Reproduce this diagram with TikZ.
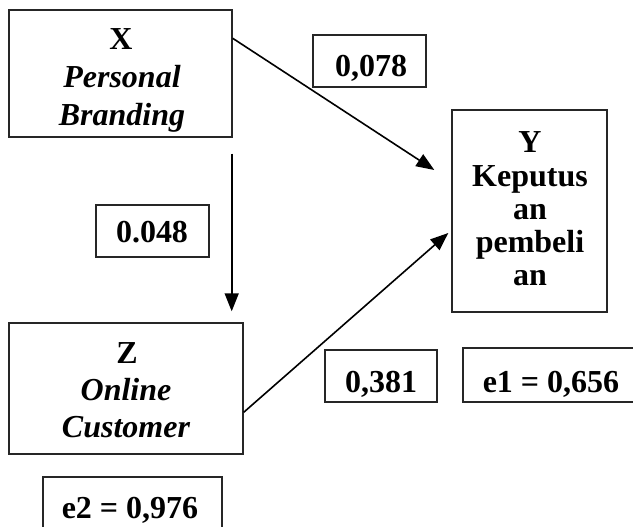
\documentclass[tikz,border=0pt]{standalone}
\usepackage{fontspec}
\setmainfont{Liberation Serif}
\usetikzlibrary{arrows.meta,calc}
\begin{document}
\begin{tikzpicture}[x=1pt,y=-1pt,
  box/.style={draw=black!85,line width=1.4pt,inner sep=0pt,fill=none},
  txt/.style={anchor=base,inner sep=0pt,font=\fontsize{32}{38}\selectfont\bfseries},
  itxt/.style={anchor=base,inner sep=0pt,font=\fontsize{32}{38}\selectfont\bfseries\itshape},
  arr/.style={line width=1.6pt,-{Triangle[length=18pt,width=14pt]}}]
\clip (0,0) rectangle (633,527);
% main boxes
\node[box,minimum width=223pt,minimum height=127pt] (X) at (120.5,73.5) {};
\node[box,minimum width=234pt,minimum height=131pt] (Z) at (126,388.5) {};
\node[box,minimum width=155pt,minimum height=202pt] (Y) at (529.5,211) {};
% coefficient boxes
\node[box,minimum width=113pt,minimum height=52pt] (b078) at (369.5,61) {};
\node[box,minimum width=113pt,minimum height=52pt] (b048) at (152.5,231) {};
\node[box,minimum width=112pt,minimum height=52pt] (b381) at (381,376) {};
\node[box,minimum width=197pt,minimum height=54pt] (be1) at (561.5,375) {};
\node[box,minimum width=179pt,minimum height=68pt] (be2) at (132.5,511) {};
% texts
\node[txt] (xt1) at (121,50) {X};
\node[itxt] (xt2) at (122,87.5) {Personal};
\node[itxt] (xt3) at (122,125) {Branding};
\node[txt] (zt1) at (127,363) {Z};
\node[itxt] (zt2) at (126,400) {Online};
\node[itxt] (zt3) at (126,437) {Customer};
\node[txt] (yt1) at (530,153) {Y};
\node[txt] (yt2) at (530,186) {Keputus};
\node[txt] (yt3) at (530,219) {an};
\node[txt] (yt4) at (530,252) {pembeli};
\node[txt] (yt5) at (530,285) {an};
\node[txt] (t078) at (371,77) {0,078};
\node[txt] (t048) at (152,243) {0.048};
\node[txt] (t381) at (381,392) {0,381};
\node[txt] (te1) at (551,392) {e1 = 0,656};
\node[txt] (te2) at (130,518) {e2 = 0,976};
% connectors
\coordinate (xs) at ($(X.north east)+(0,29)$);
\coordinate (ye1) at ($(Y.west)+(-17,-41)$);
\coordinate (zs) at ($(Z.north east)+(0,90)$);
\coordinate (ye2) at ($(Y.west)+(-3,22)$);
\coordinate (xd) at ($(X.south east)+(-1,16)$);
\coordinate (zd) at ($(Z.north east)+(-12,-11)$);
\draw[arr] (xs) -- (ye1);
\draw[arr] (zs) -- (ye2);
\draw[arr] (xd) -- (zd);
\end{tikzpicture}
\end{document}
